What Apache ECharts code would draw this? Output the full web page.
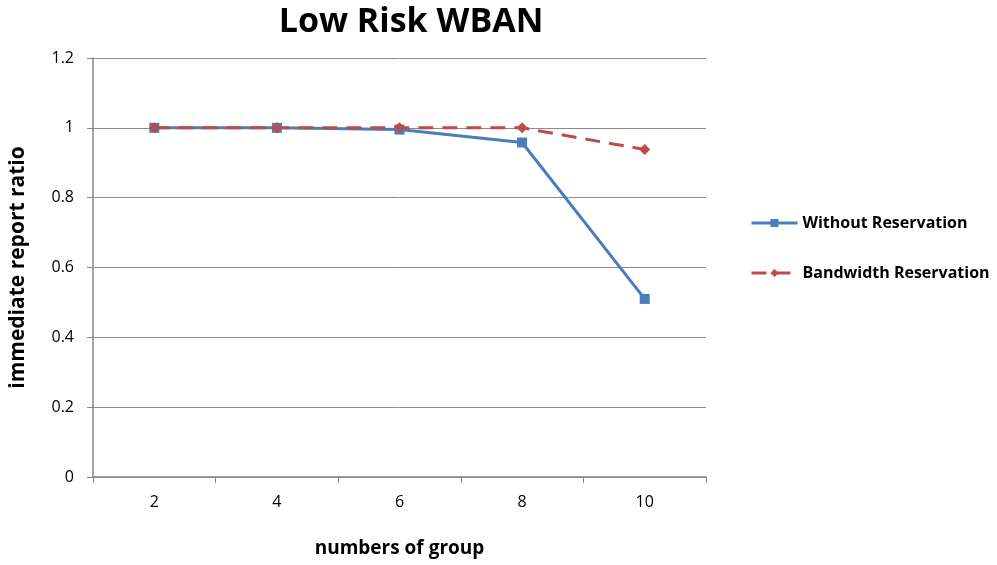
<!DOCTYPE html>
<html>
<head>
<meta charset="utf-8">
<script src="https://cdn.jsdelivr.net/npm/echarts@6/dist/echarts.min.js"></script>
<style>
  body { margin: 0; background: #fff; }
  #chart { width: 997px; height: 565px; }
</style>
</head>
<body>
<div id="chart"></div>
<script>
// x轴分组
var groups = ['2', '4', '6', '8', '10']
// 无预留
var withoutReservation = [1, 1, 0.995, 0.958, 0.51]
// 带宽预留
var bandwidthReservation = [1, 1, 1, 1, 0.938]

var font = '"Open Sans", "Liberation Sans", sans-serif'
var chart = echarts.init(document.getElementById('chart'))
chart.setOption({
  animation: false,
  textStyle: { fontFamily: font },
  title: {
    text: 'Low Risk WBAN',
    left: 406,
    textAlign: 'center',
    top: 0,
    textStyle: { fontSize: 34, fontWeight: 'bold', color: '#000', fontFamily: font }
  },
  legend: {
    orient: 'vertical',
    left: 745,
    top: 210,
    itemGap: 34,
    itemWidth: 46,
    itemHeight: 10,
    lineStyle: { width: 3 },
    textStyle: { fontSize: 16, fontWeight: 'bold', color: '#000', fontFamily: font },
    data: ['Without Reservation', 'Bandwidth Reservation']
  },
  grid: { left: 93, right: 291, top: 58, bottom: 88 },
  xAxis: {
    type: 'category',
    data: groups,
    boundaryGap: true,
    name: 'numbers of group',
    nameLocation: 'middle',
    nameGap: 62,
    nameTextStyle: { fontSize: 19, fontWeight: 'bold', color: '#000' },
    axisLine: { lineStyle: { color: '#868686', width: 1.5 } },
    axisTick: { show: true, length: 6, lineStyle: { color: '#868686' } },
    axisLabel: { fontSize: 16, color: '#000', margin: 17 }
  },
  yAxis: {
    type: 'value',
    min: 0,
    max: 1.2,
    interval: 0.2,
    name: 'immediate report ratio',
    nameLocation: 'middle',
    nameGap: 64,
    nameTextStyle: { fontSize: 21, fontWeight: 'bold', color: '#000' },
    axisLine: { show: true, lineStyle: { color: '#868686', width: 1.5 } },
    axisTick: { show: true, length: 6, inside: false, lineStyle: { color: '#868686' } },
    axisLabel: {
      fontSize: 16,
      color: '#000',
      margin: 19,
      formatter: function(v) { return String(+v.toFixed(1)) }
    },
    splitLine: { show: true, lineStyle: { color: '#8c8c8c', width: 1 } }
  },
  series: [{
    name: 'Without Reservation',
    type: 'line',
    data: withoutReservation,
    symbol: 'rect',
    symbolSize: 10,
    color: '#4a7ebb',
    lineStyle: { width: 3, color: '#4a7ebb' },
    itemStyle: { color: '#4a7ebb' }
  }, {
    name: 'Bandwidth Reservation',
    type: 'line',
    data: bandwidthReservation,
    symbol: 'diamond',
    symbolSize: 11,
    color: '#be4b48',
    lineStyle: { width: 3, type: [15, 9], color: '#be4b48' },
    itemStyle: { color: '#be4b48' }
  }]
})
</script>
</body>
</html>
